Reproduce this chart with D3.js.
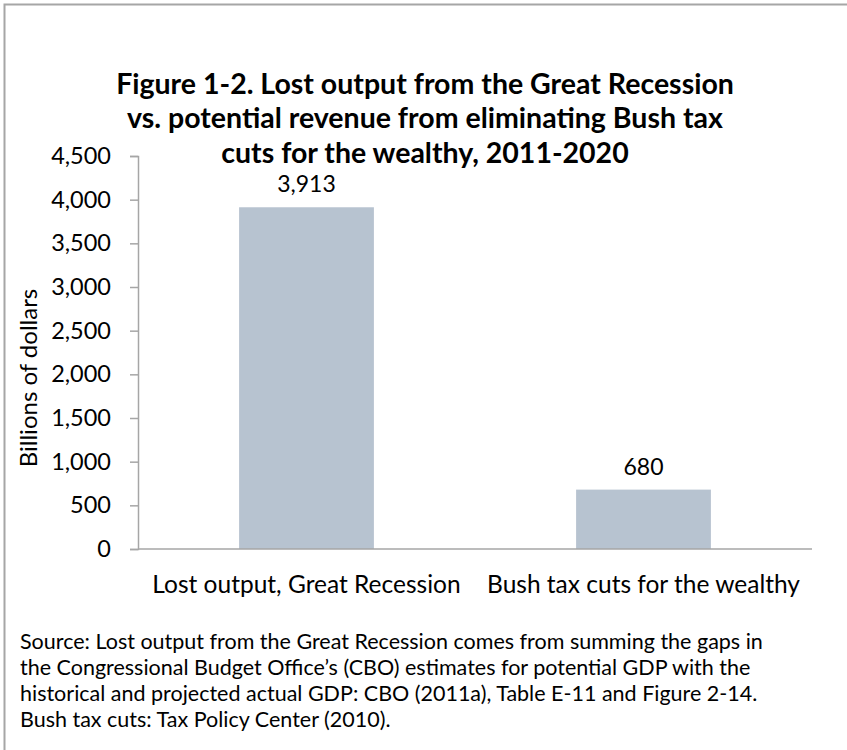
<!DOCTYPE html>
<html>
<head>
<meta charset="utf-8">
<script src="https://cdn.jsdelivr.net/npm/d3@7"></script>
<style>
  body { margin: 0; background: #fff; }
  text { font-family: Lato, "Open Sans", sans-serif; fill: #000; }
</style>
</head>
<body>
<div id="chart"></div>
<script>
// chart data
let categories = ["Lost output, Great Recession", "Bush tax cuts for the wealthy"]
let values = [3913, 680]
let yTicks = [0, 500, 1000, 1500, 2000, 2500, 3000, 3500, 4000, 4500]

let titleLines = [
  "Figure 1-2. Lost output from the Great Recession",
  "vs. potential revenue from eliminating Bush tax",
  "cuts for the wealthy, 2011-2020"
]
let sourceLines = [
  "Source: Lost output from the Great Recession comes from summing the gaps in",
  "the Congressional Budget Office\u2019s (CBO) estimates for potential GDP with the",
  "historical and projected actual GDP: CBO (2011a), Table E-11 and Figure 2-14.",
  "Bush tax cuts: Tax Policy Center (2010)."
]

let svg_width = 847
let svg_height = 750
let plot = {left: 138, right: 812, top: 156, bottom: 549}

let svg = d3.select("#chart")
  .append("svg")
  .attr("width", svg_width)
  .attr("height", svg_height)

// frame (only top and left edges show)
svg.append("path")
   .attr("d", `M4.5,${svg_height} V4.5 H${svg_width}`)
   .attr("fill", "none")
   .attr("stroke", "#a6a6a6")
   .attr("stroke-width", 2)

// title
svg.append("g").selectAll("text")
   .data(titleLines)
   .enter()
   .append("text")
   .attr("x", 425)
   .attr("y", (d, i) => 93.5 + i * 34.5)
   .attr("text-anchor", "middle")
   .attr("font-size", 28.5)
   .attr("font-weight", "bold")
   .text(d => d)

let xScale = d3.scaleBand()
               .domain(categories)
               .range([plot.left, plot.right])
               .paddingInner(0.6)
               .paddingOuter(0.3)

let yScale = d3.scaleLinear()
               .domain([0, 4500])
               .range([plot.bottom, plot.top])

// y axis
let yAxis = svg.append("g")
   .attr("transform", `translate(${plot.left},0)`)
   .call(d3.axisLeft(yScale).tickValues(yTicks).tickSize(8).tickPadding(19)
           .tickFormat(d3.format(",")))
yAxis.select(".domain").attr("stroke", "#a6a6a6").attr("stroke-width", 1.5)
yAxis.selectAll(".tick line").attr("stroke", "#a6a6a6").attr("stroke-width", 1.5)
yAxis.selectAll(".tick text").attr("font-size", 23.5).attr("font-family", null)

// y label
svg.append("text")
   .attr("transform", "translate(37,378) rotate(-90)")
   .attr("text-anchor", "middle")
   .attr("font-size", 24)
   .text("Billions of dollars")

// bars
svg.selectAll("rect.bar")
   .data(values)
   .enter()
   .append("rect")
   .attr("class", "bar")
   .attr("x", (d, i) => xScale(categories[i]))
   .attr("y", d => yScale(d))
   .attr("width", xScale.bandwidth())
   .attr("height", d => yScale(0) - yScale(d))
   .attr("fill", "#b7c3d0")

// value labels
svg.selectAll("text.val")
   .data(values)
   .enter()
   .append("text")
   .attr("class", "val")
   .attr("x", (d, i) => xScale(categories[i]) + xScale.bandwidth() / 2)
   .attr("y", d => yScale(d) - 15)
   .attr("text-anchor", "middle")
   .attr("font-size", 23)
   .text(d3.format(","))

// x baseline
svg.append("line")
   .attr("x1", plot.left).attr("x2", plot.right)
   .attr("y1", yScale(0)).attr("y2", yScale(0))
   .attr("stroke", "#a6a6a6")
   .attr("stroke-width", 1.5)

// category labels
svg.selectAll("text.cat")
   .data(categories)
   .enter()
   .append("text")
   .attr("class", "cat")
   .attr("x", d => xScale(d) + xScale.bandwidth() / 2)
   .attr("y", 593)
   .attr("text-anchor", "middle")
   .attr("font-size", 24.5)
   .text(d => d)

// source note
svg.append("g").selectAll("text")
   .data(sourceLines)
   .enter()
   .append("text")
   .attr("x", 20)
   .attr("y", (d, i) => 648.5 + i * 26)
   .attr("font-size", 21.5)
   .text(d => d)
</script>
</body>
</html>
